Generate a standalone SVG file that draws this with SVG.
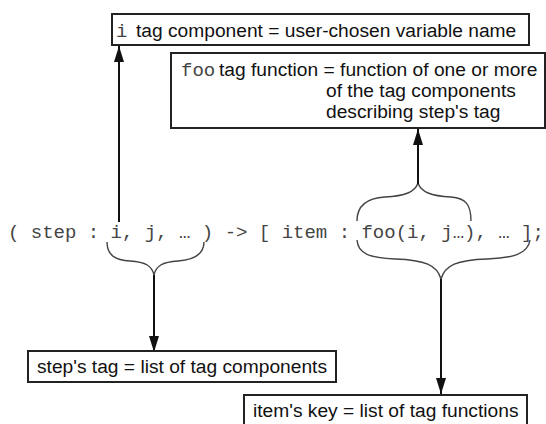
<svg xmlns="http://www.w3.org/2000/svg" width="546" height="424" viewBox="0 0 546 424">
<style>
.box{fill:#fff;stroke:#222;stroke-width:2}
.lbl{font-family:"Liberation Sans",Arial,sans-serif;font-size:19.2px;fill:#111}
.mono{font-family:"Liberation Mono","Courier New",monospace;font-size:19px;fill:#444}
.conn{stroke:#111;stroke-width:2;fill:none}
.brace{stroke:#444;stroke-width:1.4;fill:none}
</style>
<defs>
<marker id="ah" viewBox="0 0 16 10" refX="16" refY="5" markerWidth="16" markerHeight="10" markerUnits="userSpaceOnUse" orient="auto">
<path d="M0,0 L16,5 L0,10 z" fill="#111"/>
</marker>
</defs>
<rect width="546" height="424" fill="#fff"/>
<g id="code">
<text class="mono" x="8" y="238" xml:space="preserve">( step : i, j, … ) -&gt; [ item : foo(i, j…), … ];</text>
</g>
<g id="connectors">
<path class="brace" d="M107,242 C107,256 116,260 130,261 C146,262 152,266 154,275 C156,266 162,262 178,261 C192,260 204,256 204,242"/>
<path class="brace" d="M357,221 C357,205 367,198 385,197 C405,196 415,192 418,183 C421,192 431,196 451,197 C466,198 471,205 471,221"/>
<path class="brace" d="M357,240 C358,254 370,258 395,259 C425,260 437,265 441,279 C445,265 457,260 487,259 C513,258 528,254 530,240"/>
<line class="conn" x1="119" y1="222" x2="119" y2="46" marker-end="url(#ah)"/>
<line class="conn" x1="418" y1="184" x2="418" y2="129" marker-end="url(#ah)"/>
<line class="conn" x1="154" y1="275" x2="154" y2="352" marker-end="url(#ah)"/>
<line class="conn" x1="441" y1="279" x2="441" y2="394" marker-end="url(#ah)"/>
</g>
<g id="tag-component">
<rect class="box" x="112" y="14" width="417" height="31"/>
<text class="mono" x="116" y="37">i</text>
<text class="lbl" x="136" y="37">tag component = user-chosen variable name</text>
</g>
<g id="tag-function">
<rect class="box" x="171" y="53" width="374" height="75"/>
<text class="mono" x="181" y="76">foo</text>
<text class="lbl" x="219" y="76">tag function = function of one or more</text>
<text class="lbl" x="326" y="97">of the tag components</text>
<text class="lbl" x="326" y="118">describing step's tag</text>
</g>
<g id="step-tag">
<rect class="box" x="28" y="351" width="308" height="31"/>
<text class="lbl" x="37" y="373">step's tag = list of tag components</text>
</g>
<g id="item-key">
<rect class="box" x="244" y="395" width="283" height="40"/>
<text class="lbl" x="253" y="417">item's key = list of tag functions</text>
</g>
</svg>
